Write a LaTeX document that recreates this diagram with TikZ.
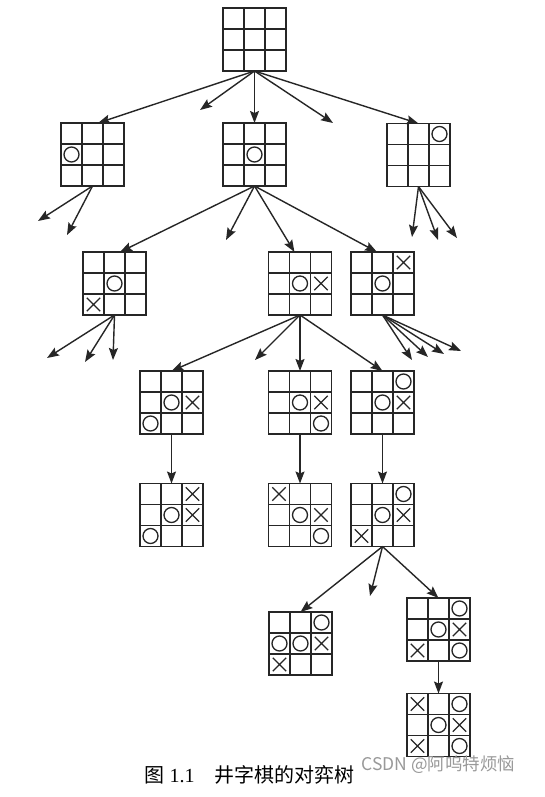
\documentclass[tikz,border=0pt]{standalone}
\usepackage{fontspec}
\setmainfont{Liberation Serif}
\newfontfamily\cjk{Noto Sans CJK SC}
\usetikzlibrary{arrows.meta,shapes.misc}
\tikzset{%
    board/.style={
      rectangle,
      draw=black!85,
      line width=1.8pt,
      minimum size=63pt,
      inner sep=0pt,
      outer sep=0pt
    },
    gridline/.style={
      draw=black!85,
      line width=1.8pt
    },
    omark/.style={
      circle,
      draw=black!85,
      line width=1.3pt,
      minimum size=15pt,
      inner sep=0pt
    },
    xmark/.style={
      cross out,
      draw=black!85,
      line width=1.3pt,
      minimum size=12pt,
      inner sep=0pt
    },
    move/.style={
      ->,
      draw=black!85,
      line width=1.4pt
    }
  }
\newcommand{\grid}[1]{%
  \draw[gridline] ([xshift=21pt]#1.north west) -- ([xshift=21pt]#1.south west)
    ([xshift=-21pt]#1.north east) -- ([xshift=-21pt]#1.south east)
    ([yshift=-21pt]#1.north west) -- ([yshift=-21pt]#1.north east)
    ([yshift=21pt]#1.south west) -- ([yshift=21pt]#1.south east);}
\newcommand{\om}[3]{\node[omark] at ([shift={({(#2-2)*21},{(#3-2)*21})}]#1.center) {};}
\newcommand{\xm}[3]{\node[xmark] at ([shift={({(#2-2)*21},{(#3-2)*21})}]#1.center) {};}
\begin{document}
\begin{tikzpicture}[x=1pt, y=-1pt, >={Stealth[length=12pt,width=9pt,inset=2pt]}]
      \fill[white] (0,0) rectangle (545,797);
      \useasboundingbox (0,0) rectangle (545,797);

      % boards
      \node [board] (b0) at (254.5,39.5) {};

      \node [board] (b1) at (92.5,154.5) {};
      \node [board] (b2) at (254.5,154.5) {};
      \node [board] (b3) at (418.5,155) {};

      \node [board] (b4) at (114.5,283.5) {};
      \node [board] (b5) at (300,283.5) {};
      \node [board] (b6) at (382.5,283.5) {};

      \node [board] (b7) at (171.5,402.5) {};
      \node [board] (b8) at (300,402.5) {};
      \node [board] (b9) at (382.5,402.5) {};

      \node [board] (b10) at (171.5,515) {};
      \node [board] (b11) at (300,515) {};
      \node [board] (b12) at (382.5,515) {};

      \node [board] (b13) at (300.5,643.5) {};
      \node [board] (b14) at (438.5,629.5) {};

      \node [board] (b15) at (438.5,725) {};

      \foreach \i in {0,...,15} {\grid{b\i}}

      % marks
      \om{b1}{1}{2}
      \om{b2}{2}{2}
      \om{b3}{3}{1}
      \om{b4}{2}{2} \xm{b4}{1}{3}
      \om{b5}{2}{2} \xm{b5}{3}{2}
      \xm{b6}{3}{1} \om{b6}{2}{2}
      \om{b7}{2}{2} \xm{b7}{3}{2} \om{b7}{1}{3}
      \om{b8}{2}{2} \xm{b8}{3}{2} \om{b8}{3}{3}
      \om{b9}{3}{1} \om{b9}{2}{2} \xm{b9}{3}{2}
      \xm{b10}{3}{1} \om{b10}{2}{2} \xm{b10}{3}{2} \om{b10}{1}{3}
      \xm{b11}{1}{1} \om{b11}{2}{2} \xm{b11}{3}{2} \om{b11}{3}{3}
      \om{b12}{3}{1} \om{b12}{2}{2} \xm{b12}{3}{2} \xm{b12}{1}{3}
      \om{b13}{3}{1} \om{b13}{1}{2} \om{b13}{2}{2} \xm{b13}{3}{2} \xm{b13}{1}{3}
      \om{b14}{3}{1} \om{b14}{2}{2} \xm{b14}{3}{2} \xm{b14}{1}{3} \om{b14}{3}{3}
      \xm{b15}{1}{1} \om{b15}{3}{1} \om{b15}{2}{2} \xm{b15}{3}{2} \xm{b15}{1}{3} \om{b15}{3}{3}

      % open ends
      \coordinate (c1) at (200,110);
      \coordinate (c2) at (333,123);
      \coordinate (c3) at (38,221);
      \coordinate (c4) at (67,235);
      \coordinate (c5) at (226,240);
      \coordinate (c6) at (412,237);
      \coordinate (c7) at (438,240);
      \coordinate (c8) at (457,238);
      \coordinate (c9) at (47,358);
      \coordinate (c10) at (85,362);
      \coordinate (c11) at (113,360);
      \coordinate (c12) at (255,360);
      \coordinate (c13) at (412,360);
      \coordinate (c14) at (428,357);
      \coordinate (c15) at (444,354);
      \coordinate (c16) at (461,351);
      \coordinate (c17) at (370,596);

      % moves
      \draw [move] (b0.south) -- (b1.80);
      \draw [move] (b0.south) -- (c1);
      \draw [move] (b0.south) -- (b2.north);
      \draw [move] (b0.south) -- (c2);
      \draw [move] (b0.south) -- (b3.north);

      \draw [move] (b1.south) -- (c3);
      \draw [move] (b1.south) -- (c4);

      \draw [move] (b2.south) -- (b4.80);
      \draw [move] (b2.south) -- (c5);
      \draw [move] (b2.south) -- (b5.100);
      \draw [move] (b2.south) -- (b6.100);

      \draw [move] (b3.south) -- (c6);
      \draw [move] (b3.south) -- (c7);
      \draw [move] (b3.south) -- (c8);

      \draw [move] (b4.south) -- (c9);
      \draw [move] (b4.south) -- (c10);
      \draw [move] (b4.south) -- (c11);

      \draw [move] (b5.south) -- (b7.north);
      \draw [move] (b5.south) -- (c12);
      \draw [move] (b5.south) -- (b8.north);
      \draw [move] (b5.south) -- (b9.north);

      \draw [move] (b6.south) -- (c13);
      \draw [move] (b6.south) -- (c14);
      \draw [move] (b6.south) -- (c15);
      \draw [move] (b6.south) -- (c16);

      \draw [move] (b7) -- (b10);
      \draw [move] (b8) -- (b11);
      \draw [move] (b9) -- (b12);

      \draw [move] (b12.south) -- (b13.north);
      \draw [move] (b12.south) -- (c17);
      \draw [move] (b12.south) -- (b14.north);

      \draw [move] (b14) -- (b15);

      % caption
      \node [anchor=west, font=\fontsize{20}{24}\selectfont] (cap) at (141,775)
        {{\cjk 图}\hspace{5pt}1.1\hspace{20pt}{\cjk 井字棋的对弈树}};
      \node [anchor=west, text=black!40, font=\cjk\fontsize{17.5}{20}\selectfont] (mark) at (358,765)
        {CSDN @阿呜特烦恼};
    \end{tikzpicture}
\end{document}
